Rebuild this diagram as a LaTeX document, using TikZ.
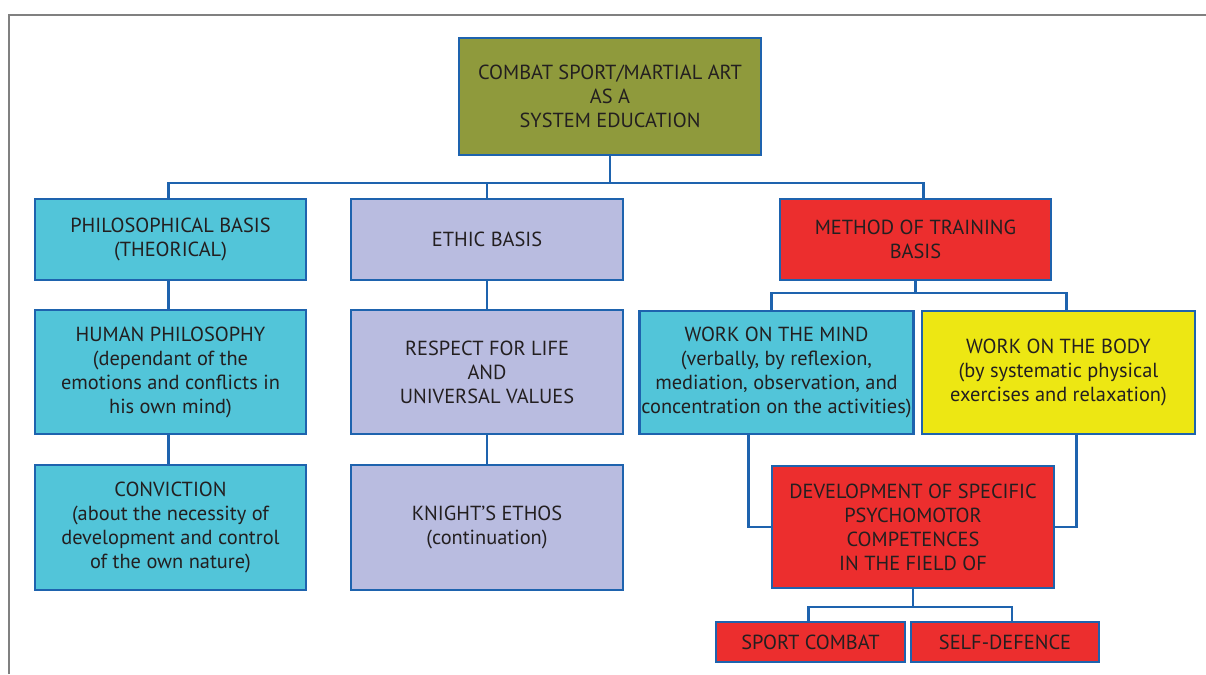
\documentclass[tikz,border=0pt]{standalone}
\usepackage{fontspec}
\setmainfont{PT Sans}
\usetikzlibrary{positioning,calc}

\definecolor{boxblue}{RGB}{30,99,174}
\definecolor{olivefill}{RGB}{143,154,60}
\definecolor{cyanfill}{RGB}{82,197,217}
\definecolor{lilacfill}{RGB}{185,188,224}
\definecolor{redfill}{RGB}{236,46,46}
\definecolor{yellowfill}{RGB}{237,231,19}
\definecolor{textdark}{RGB}{35,31,32}
\definecolor{framegray}{RGB}{128,128,128}

\tikzset{
  box/.style={draw=boxblue, line width=1.4pt, align=center, text=textdark,
    inner sep=1pt, font=\fontsize{11.6}{13.66}\selectfont},
  link/.style={draw=boxblue, line width=1.2pt},
}

\begin{document}
\begin{tikzpicture}[x=0.02cm, y=-0.02cm]
    \useasboundingbox (0,0) rectangle (1206,674);
    % page frame
    \draw[framegray, line width=1pt] (9,674) -- (9,15) -- (1206,15);

    % top
    \node[box, fill=olivefill, minimum width=6.04cm, minimum height=2.34cm] (top) at (610,96.5)
        {COMBAT SPORT/MARTIAL ART\\AS A\\SYSTEM EDUCATION};

    % three bases
    \node[box, fill=cyanfill, minimum width=5.42cm, minimum height=1.62cm] (phil) at (170.5,239.5)
        {PHILOSOPHICAL BASIS\\(THEORICAL)};
    \node[box, fill=lilacfill, minimum width=5.44cm, minimum height=1.62cm] (ethic) at (487,239.5)
        {ETHIC BASIS};
    \node[box, fill=redfill, minimum width=5.42cm, minimum height=1.62cm] (method) at (915.5,239.5)
        {METHOD OF TRAINING\\BASIS};

    % left columns
    \node[box, fill=cyanfill, minimum width=5.42cm, minimum height=2.48cm] (human) at (170.5,372)
        {HUMAN PHILOSOPHY\\(dependant of the\\emotions and conflicts in\\his own mind)};
    \node[box, fill=lilacfill, minimum width=5.44cm, minimum height=2.48cm] (respect) at (487,372)
        {RESPECT FOR LIFE\\AND\\UNIVERSAL VALUES};
    \node[box, fill=cyanfill, minimum width=5.42cm, minimum height=2.5cm] (conviction) at (170.5,527.5)
        {CONVICTION\\(about the necessity of\\development and control\\of the own nature)};
    \node[box, fill=lilacfill, minimum width=5.44cm, minimum height=2.5cm] (knight) at (487,527.5)
        {KNIGHT'S ETHOS\\(continuation)};

    % training branch
    \node[box, fill=cyanfill, minimum width=5.42cm, minimum height=2.46cm] (mind) at (776.5,372.5)
        {WORK ON THE MIND\\(verbally, by reflexion,\\mediation, observation, and\\concentration on the activities)};
    \node[box, fill=yellowfill, minimum width=5.46cm, minimum height=2.46cm] (body) at (1058.5,372.5)
        {WORK ON THE BODY\\(by systematic physical\\exercises and relaxation)};
    \node[box, fill=redfill, minimum width=5.64cm, minimum height=2.44cm] (dev) at (913,527)
        {DEVELOPMENT OF SPECIFIC\\PSYCHOMOTOR\\COMPETENCES\\IN THE FIELD OF};
    \node[box, fill=redfill, minimum width=3.78cm, minimum height=0.8cm] (sport) at (810.5,642)
        {SPORT COMBAT};
    \node[box, fill=redfill, minimum width=3.76cm, minimum height=0.8cm] (self) at (1005,642)
        {SELF-DEFENCE};

    % connectors
    \coordinate (bus1) at (0,183);
    \coordinate (bus2) at (0,293);
    \coordinate (bus3) at (0,607);
    \coordinate (mdrop) at ($(method.north)+(8,0)$);
    \draw[link] (top.south) -- (top.south |- bus1);
    \draw[link] ($(phil.north)+(-2,0)$) |- (bus1 -| mdrop) -- (mdrop);
    \draw[link] (ethic.north) -- (ethic.north |- bus1);
    \draw[link] ($(phil.south)+(-2,0)$) -- ($(human.north)+(-2,0)$);
    \draw[link] ($(human.south)+(-2,0)$) -- ($(conviction.north)+(-2,0)$);
    \draw[link] (ethic) -- (respect);
    \draw[link] (respect) -- (knight);
    \draw[link] (method.south) -- (method.south |- bus2);
    \draw[link] ($(mind.north)+(-5,0)$) |- (bus2 -| body.north) -- ++(8,0) -- ($(body.north)+(8,0)$);
    \draw[link] ($(mind.south)+(-28,0)$) |- (dev.west);
    \draw[link] ($(body.south)+(18,0)$) |- (dev.east);
    \draw[link] (dev.south) -- (dev.south |- bus3);
    \draw[link] ($(sport.north)+(-2,0)$) |- (bus3 -| self.north) -- ++(7,0) -- ($(self.north)+(7,0)$);
\end{tikzpicture}
\end{document}
